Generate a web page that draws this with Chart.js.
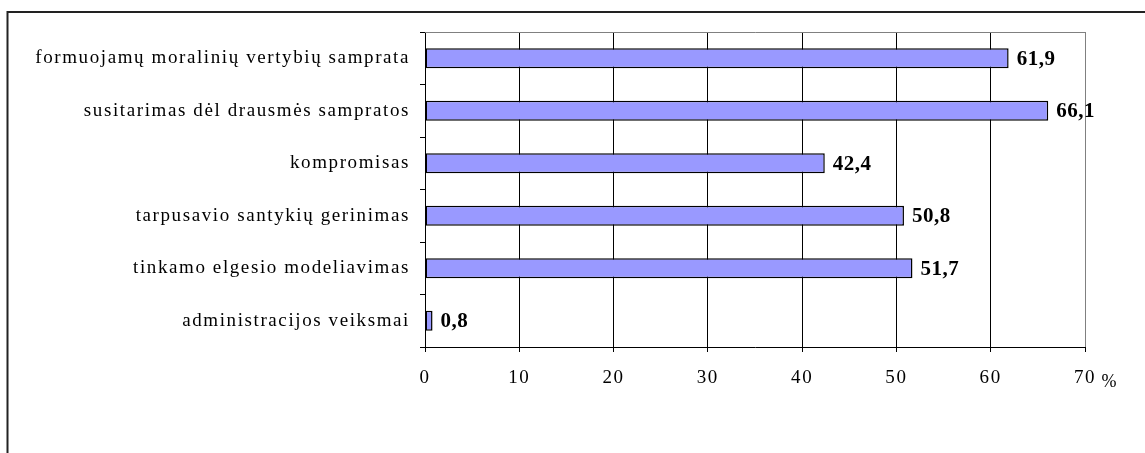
<!DOCTYPE html>
<html>
<head>
<meta charset="utf-8">
<script src="https://cdn.jsdelivr.net/npm/chart.js@4.4.1/dist/chart.umd.min.js"></script>
<style>
  html, body { margin: 0; padding: 0; background: #fff; }
  #wrap { width: 1145px; height: 453px; position: relative; }
</style>
</head>
<body>
<div id="wrap"><canvas id="c" width="1145" height="453"></canvas></div>
<script>
const categories = [
  "formuojamų moralinių vertybių samprata",
  "susitarimas dėl drausmės sampratos",
  "kompromisas",
  "tarpusavio santykių gerinimas",
  "tinkamo elgesio modeliavimas",
  "administracijos veiksmai"
];
const values = [61.9, 66.1, 42.4, 50.8, 51.7, 0.8];
const valueLabels = ["61,9", "66,1", "42,4", "50,8", "51,7", "0,8"];
const xTicks = [0, 10, 20, 30, 40, 50, 60, 70];
const unitLabel = "%";

const SPACING = '1.6px';

const decor = {
  id: 'decor',
  beforeUpdate(chart) { chart.ctx.letterSpacing = SPACING; },
  beforeDraw(chart) {
    const ctx = chart.ctx;
    ctx.letterSpacing = SPACING;
    ctx.save();
    ctx.fillStyle = '#fff';
    ctx.fillRect(0, 0, chart.width, chart.height);
    ctx.strokeStyle = '#222';
    ctx.lineWidth = 2;
    ctx.beginPath();
    ctx.moveTo(7.5, chart.height);
    ctx.lineTo(7.5, 12);
    ctx.lineTo(chart.width, 12);
    ctx.stroke();
    ctx.restore();
  },
  afterDatasetsDraw(chart) {
    const ctx = chart.ctx;
    const a = chart.chartArea;
    ctx.save();
    ctx.strokeStyle = '#808080';
    ctx.lineWidth = 1;
    ctx.beginPath();
    ctx.moveTo(a.left, a.top + 0.5);
    ctx.lineTo(a.right + 0.5, a.top + 0.5);
    ctx.stroke();
    ctx.letterSpacing = '0.5px';
    ctx.fillStyle = '#000';
    ctx.font = 'bold 21px "Liberation Serif"';
    ctx.textAlign = 'left';
    ctx.textBaseline = 'middle';
    const meta = chart.getDatasetMeta(0);
    meta.data.forEach((bar, i) => {
      ctx.fillText(valueLabels[i], bar.x + 8, bar.y + 1);
    });
    ctx.letterSpacing = '0px';
    ctx.font = '18px "Liberation Serif"';
    ctx.textAlign = 'center';
    ctx.fillText(unitLabel, 1109, 382);
    ctx.restore();
    ctx.letterSpacing = SPACING;
  }
};

new Chart(document.getElementById('c'), {
  type: 'bar',
  data: {
    labels: categories,
    datasets: [{
      data: values,
      backgroundColor: '#9999FF',
      borderColor: '#000',
      borderWidth: 1.5,
      borderSkipped: false,
      categoryPercentage: 1,
      barPercentage: 0.38
    }]
  },
  options: {
    indexAxis: 'y',
    responsive: false,
    animation: false,
    devicePixelRatio: 1,
    layout: { padding: { top: 32, right: 60, left: 0, bottom: 0 } },
    plugins: { legend: { display: false }, tooltip: { enabled: false } },
    scales: {
      y: {
        type: 'category',
        afterFit(s) { s.width = 425; },
        grid: {
          offset: true,
          drawOnChartArea: false,
          drawTicks: true,
          tickLength: 5,
          color: '#000',
          tickColor: '#000',
          lineWidth: 1
        },
        border: { display: true, color: '#000', width: 1 },
        ticks: {
          color: '#000',
          padding: 10,
          font: { family: '"Liberation Serif"', size: 19 }
        }
      },
      x: {
        type: 'linear',
        min: 0,
        max: 70,
        afterFit(s) { s.height = 106; },
        afterBuildTicks(s) { s.ticks = xTicks.map(v => ({ value: v })); },
        grid: {
          drawOnChartArea: true,
          drawTicks: true,
          tickLength: 5,
          color: (c) => (c.tick && c.tick.value === 70 ? '#808080' : '#000'),
          tickColor: '#000',
          lineWidth: 1
        },
        border: { display: true, color: '#000', width: 1 },
        ticks: {
          color: '#000',
          padding: 15,
          font: { family: '"Liberation Serif"', size: 19 },
          callback: (v) => String(v)
        }
      }
    }
  },
  plugins: [decor]
});
</script>
</body>
</html>
